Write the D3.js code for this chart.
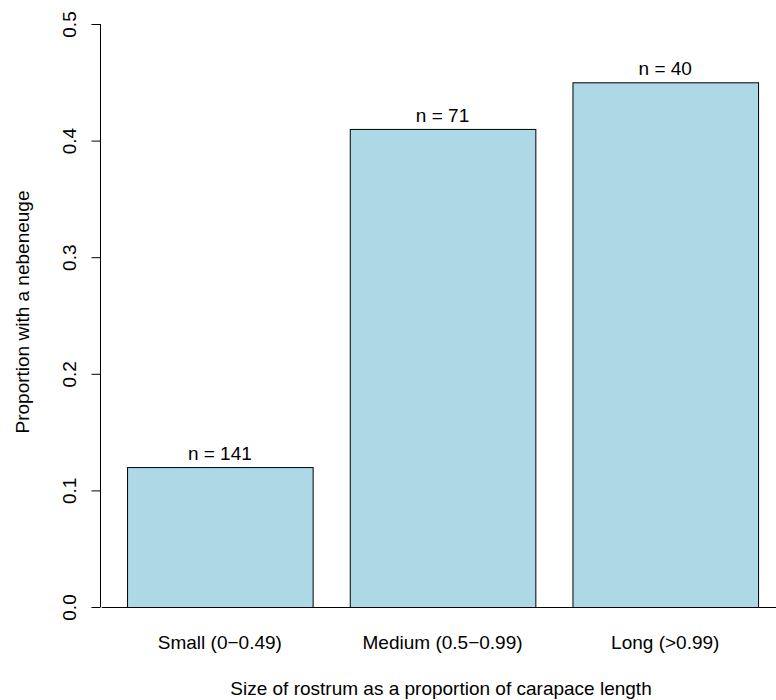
<!DOCTYPE html>
<html><head><meta charset="utf-8">
<script src="https://cdn.jsdelivr.net/npm/d3@7"></script>
<style>body{margin:0;background:#fff}svg{display:block;font-family:"Liberation Sans",Arial,Helvetica,sans-serif}</style>
</head><body><svg id="c" width="776" height="700"></svg>
<script>
const categories = ["Small (0\u22120.49)", "Medium (0.5\u22120.99)", "Long (>0.99)"];
const proportions = [0.12, 0.41, 0.45];
const sampleSizes = [141, 71, 40];
const yTicks = [0, 0.1, 0.2, 0.3, 0.4, 0.5];
const yTickLabels = ["0.0", "0.1", "0.2", "0.3", "0.4", "0.5"];
const xTitle = "Size of rostrum as a proportion of carapace length";
const yTitle = "Proportion with a nebeneuge";

const svg = d3.select("#c");
const W = 776, H = 700;
const fs = 19;

// R barplot geometry: width 1, space 0.2
const barW = 1, space = 0.2;
const lefts = categories.map((_, i) => space + i * (barW + space));
const x = d3.scaleLinear().domain([0.064, 3.736]).range([101.8, 783.3]);
const y = d3.scaleLinear().domain([0, 0.5]).range([607, 24]);

// bars
svg.append("g").selectAll("rect").data(proportions).join("rect")
  .attr("x", (d, i) => x(lefts[i]) + 0.5)
  .attr("y", d => y(d) + 0.5)
  .attr("width", (d, i) => x(lefts[i] + barW) - x(lefts[i]))
  .attr("height", d => y(0) - y(d))
  .attr("fill", "#ADD8E6").attr("stroke", "#000").attr("stroke-width", 1);

// baseline
svg.append("line").attr("x1", x.range()[0]).attr("x2", W)
  .attr("y1", y(0) + 0.5).attr("y2", y(0) + 0.5).attr("stroke", "#000");

// y axis
const yAxis = d3.axisLeft(y).tickValues(yTicks).tickFormat((d, i) => yTickLabels[i]).tickSize(9).tickPadding(0);
const gy = svg.append("g").attr("transform", "translate(100.5,0)").call(yAxis);
gy.select(".domain").attr("d", `M0,${y(0.5)}V${y(0)}`).attr("stroke", "#000");
gy.selectAll(".tick line").attr("stroke", "#000");
gy.selectAll(".tick text")
  .attr("font-size", fs).attr("font-family", "Liberation Sans, Arial, sans-serif").attr("fill", "#000")
  .attr("text-anchor", "middle").attr("x", null).attr("dy", null)
  .attr("transform", "translate(-31,0) rotate(-90)").attr("dominant-baseline", "central");

// bar labels
svg.append("g").selectAll("text").data(sampleSizes).join("text")
  .attr("x", (d, i) => x(lefts[i] + barW / 2))
  .attr("y", (d, i) => y(proportions[i]) - 7)
  .attr("text-anchor", "middle").attr("font-size", fs)
  .text(d => "n = " + d);

// category labels
svg.append("g").selectAll("text").data(categories).join("text")
  .attr("x", (d, i) => x(lefts[i] + barW / 2))
  .attr("y", 642).attr("dominant-baseline", "central")
  .attr("text-anchor", "middle").attr("font-size", fs)
  .text(d => d);

// titles
svg.append("text").attr("x", 441).attr("y", 688).attr("dominant-baseline", "central")
  .attr("text-anchor", "middle").attr("font-size", fs).text(xTitle);
svg.append("text").attr("transform", "translate(22,312) rotate(-90)").attr("dominant-baseline", "central")
  .attr("text-anchor", "middle").attr("font-size", fs).text(yTitle);
</script></body></html>
